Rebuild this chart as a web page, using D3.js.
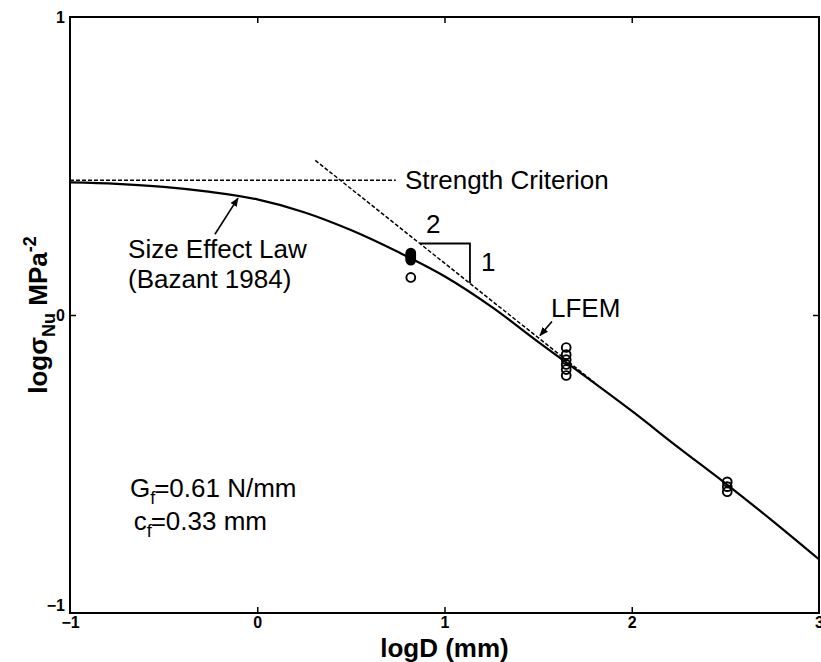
<!DOCTYPE html>
<html>
<head>
<meta charset="utf-8">
<script src="https://cdn.jsdelivr.net/npm/d3@7"></script>
<style>
  body { margin: 0; background: #fff; }
  svg { display: block; }
  text { font-family: "Liberation Sans", Arial, Helvetica, sans-serif; fill: #000; }
</style>
</head>
<body>
<svg id="chart" width="821" height="662"></svg>
<script>
// Axis ticks
const xTicks = [-1, 0, 1, 2, 3];
const yTicks = [-1, 0, 1];

// Size effect law (Bazant 1984): log D vs log sigma_Nu
const sizeEffectX = [-1, -0.75, -0.5, -0.25, 0, 0.25, 0.5, 0.75, 1, 1.25, 1.5, 1.75, 2, 2.25, 2.5, 2.75, 3];
const sizeEffectY = [0.445, 0.440, 0.430, 0.413, 0.388, 0.345, 0.285, 0.212, 0.130, 0.028, -0.090, -0.205, -0.322, -0.445, -0.565, -0.690, -0.820];

// Strength criterion (horizontal asymptote)
const strengthX = [-1, 0.74];
const strengthY = [0.452, 0.452];

// LFEM asymptote, slope -1/2
const lfemX = [0.31, 1.8];
const lfemY = [0.519, -0.226];

// Test results
const testX = [0.82, 0.82, 0.82, 0.82, 0.82, 0.82, 0.82,
               1.65, 1.65, 1.65, 1.65, 1.65, 1.65,
               2.51, 2.51, 2.51];
const testY = [0.208, 0.203, 0.198, 0.194, 0.189, 0.184, 0.126,
               -0.109, -0.133, -0.150, -0.166, -0.183, -0.203,
               -0.560, -0.576, -0.593];

// Slope triangle corners (2 : 1)
const triX = [0.869, 1.136, 1.136];
const triY = [0.240, 0.240, 0.1065];

const svg = d3.select("#chart");
const plotLeft = 70, plotRight = 819, plotTop = 17, plotBottom = 613;
const x = d3.scaleLinear().domain([-1, 3]).range([plotLeft, plotRight]);
const y = d3.scaleLinear().domain([-1, 1]).range([plotBottom, plotTop]);

const defs = svg.append("defs");
defs.append("clipPath").attr("id", "plotClip")
  .append("rect").attr("x", plotLeft).attr("y", plotTop)
  .attr("width", plotRight - plotLeft).attr("height", plotBottom - plotTop);

defs.append("marker").attr("id", "arrowHead")
  .attr("viewBox", "0 0 10 10").attr("refX", 9).attr("refY", 5)
  .attr("markerWidth", 9).attr("markerHeight", 9)
  .attr("markerUnits", "userSpaceOnUse")
  .attr("orient", "auto")
  .append("path").attr("d", "M0,1 L10,5 L0,9 Z").attr("fill", "#000");

// Inward tick marks on all four sides
function ticksOnly(g) {
  g.select(".domain").remove();
  g.selectAll(".tick line").attr("stroke", "#000").attr("stroke-width", 1.5);
  g.selectAll(".tick text").remove();
}
svg.append("g").attr("transform", `translate(0,${plotBottom})`)
  .call(d3.axisBottom(x).tickValues([0, 1, 2]).tickSize(-6)).call(ticksOnly);
svg.append("g").attr("transform", `translate(0,${plotTop})`)
  .call(d3.axisTop(x).tickValues([0, 1, 2]).tickSize(-6)).call(ticksOnly);
svg.append("g").attr("transform", `translate(${plotLeft},0)`)
  .call(d3.axisLeft(y).tickValues([0]).tickSize(-6)).call(ticksOnly);
svg.append("g").attr("transform", `translate(${plotRight},0)`)
  .call(d3.axisRight(y).tickValues([0]).tickSize(-6)).call(ticksOnly);

// Tick labels
function labelsOnly(g) {
  g.select(".domain").remove();
  g.selectAll(".tick line").remove();
  g.selectAll(".tick text").attr("font-size", 16).attr("font-weight", "bold")
    .attr("font-family", "'Liberation Sans', Arial, sans-serif").attr("fill", "#000");
}
svg.append("g").attr("transform", `translate(0,${plotBottom})`)
  .call(d3.axisBottom(x).tickValues(xTicks).tickSize(0).tickPadding(4).tickFormat(d3.format("d")))
  .call(labelsOnly);
const yLab = svg.append("g").attr("transform", `translate(${plotLeft},0)`)
  .call(d3.axisLeft(y).tickValues(yTicks).tickSize(0).tickPadding(5).tickFormat(d3.format("d")))
  .call(labelsOnly);
yLab.selectAll(".tick text").filter(d => d === -1).attr("dy", "-0.15em");

// Frame
svg.append("rect").attr("x", plotLeft).attr("y", plotTop)
  .attr("width", plotRight - plotLeft).attr("height", plotBottom - plotTop)
  .attr("fill", "none").attr("stroke", "#000").attr("stroke-width", 2);

const plot = svg.append("g").attr("clip-path", "url(#plotClip)");
const line = d3.line().x(d => x(d[0])).y(d => y(d[1]));

// Strength criterion
plot.append("path").datum(d3.zip(strengthX, strengthY))
  .attr("d", line).attr("fill", "none").attr("stroke", "#000")
  .attr("stroke-width", 1.5).attr("stroke-dasharray", "4,2");

// LFEM
plot.append("path").datum(d3.zip(lfemX, lfemY))
  .attr("d", line).attr("fill", "none").attr("stroke", "#000")
  .attr("stroke-width", 1.5).attr("stroke-dasharray", "4,2");

// Size effect law
plot.append("path").datum(d3.zip(sizeEffectX, sizeEffectY))
  .attr("d", d3.line().x(d => x(d[0])).y(d => y(d[1])).curve(d3.curveMonotoneX))
  .attr("fill", "none").attr("stroke", "#000").attr("stroke-width", 2.2);

// Slope triangle
plot.append("path").datum(d3.zip(triX, triY))
  .attr("d", line)
  .attr("fill", "none").attr("stroke", "#000").attr("stroke-width", 1.8);

// Test points; tightly stacked repeats merge into a solid blob
const pts = d3.zip(testX, testY).map(([a, b]) => ({ px: x(a), py: y(b) }));
pts.forEach(p => {
  p.dense = pts.some(q => q !== p && Math.hypot(q.px - p.px, q.py - p.py) < 2.5);
});
plot.selectAll("circle.test").data(pts).join("circle")
  .attr("class", "test")
  .attr("cx", d => d.px).attr("cy", d => d.py).attr("r", 4.4)
  .attr("fill", d => d.dense ? "#000" : "none")
  .attr("stroke", "#000").attr("stroke-width", 1.9);

// Annotations
const ann = svg.append("g").attr("font-size", 26);
ann.append("text").attr("x", x(0.789)).attr("y", y(0.422)).text("Strength Criterion");
ann.append("text").attr("x", x(-0.690)).attr("y", y(0.190)).text("Size Effect Law");
ann.append("text").attr("x", x(-0.690)).attr("y", y(0.092)).text("(Bazant 1984)");
ann.append("text").attr("x", x(1.569)).attr("y", y(-0.008)).text("LFEM");
ann.append("text").attr("x", x(0.94)).attr("y", y(0.275)).attr("text-anchor", "middle").text("2");
ann.append("text").attr("x", x(1.195)).attr("y", y(0.146)).text("1");

const gf = ann.append("text").attr("x", x(-0.68)).attr("y", y(-0.61));
gf.append("tspan").text("G");
gf.append("tspan").attr("font-size", 18).attr("dy", 7).text("f");
gf.append("tspan").attr("dy", -7).attr("dx", -1).text("=0.61 N/mm");
const cf = ann.append("text").attr("x", x(-0.66)).attr("y", y(-0.721));
cf.append("tspan").text("c");
cf.append("tspan").attr("font-size", 18).attr("dy", 7).text("f");
cf.append("tspan").attr("dy", -7).attr("dx", -1).text("=0.33 mm");

// Arrows
svg.append("line")
  .attr("x1", x(-0.226)).attr("y1", y(0.271)).attr("x2", x(-0.103)).attr("y2", y(0.392))
  .attr("stroke", "#000").attr("stroke-width", 1.6).attr("marker-end", "url(#arrowHead)");
svg.append("line")
  .attr("x1", x(1.574)).attr("y1", y(-0.022)).attr("x2", x(1.510)).attr("y2", y(-0.069))
  .attr("stroke", "#000").attr("stroke-width", 1.6).attr("marker-end", "url(#arrowHead)");

// Axis titles
svg.append("text").attr("x", (plotLeft + plotRight) / 2).attr("y", 657)
  .attr("text-anchor", "middle").attr("font-size", 26).attr("font-weight", "bold")
  .text("logD (mm)");

const yt = svg.append("text")
  .attr("transform", `translate(47,${(plotTop + plotBottom) / 2}) rotate(-90)`)
  .attr("text-anchor", "middle").attr("font-size", 26).attr("font-weight", "bold");
yt.append("tspan").text("logσ");
yt.append("tspan").attr("font-size", 18).attr("dy", 8).text("Nu");
yt.append("tspan").attr("dy", -8).text(" MPa");
yt.append("tspan").attr("font-size", 18).attr("dy", -11).text("-2");
</script>
</body>
</html>
